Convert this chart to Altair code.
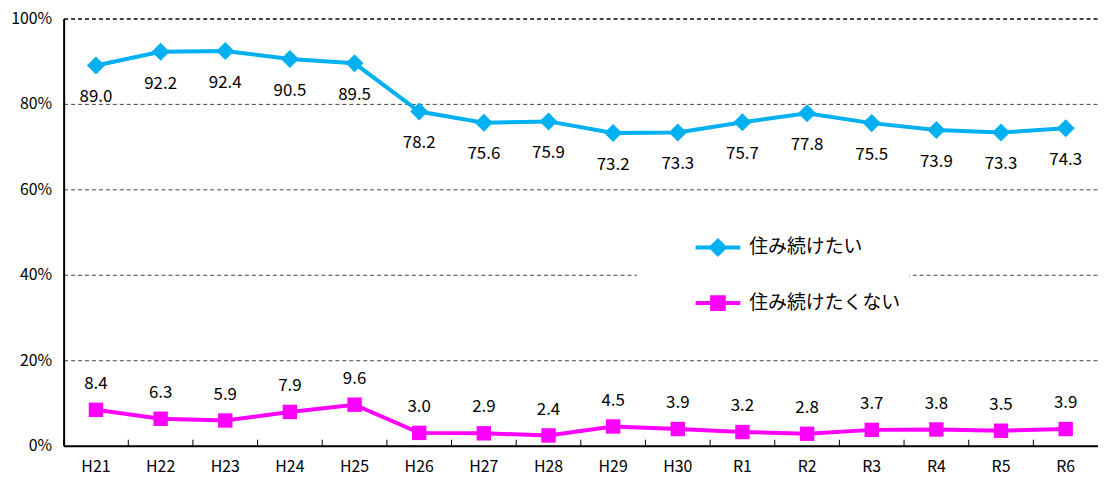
import altair as alt
import pandas as pd

years = ["H21", "H22", "H23", "H24", "H25", "H26", "H27", "H28", "H29", "H30",
         "R1", "R2", "R3", "R4", "R5", "R6"]
want = [89.0, 92.2, 92.4, 90.5, 89.5, 78.2, 75.6, 75.9, 73.2, 73.3,
        75.7, 77.8, 75.5, 73.9, 73.3, 74.3]
not_want = [8.4, 6.3, 5.9, 7.9, 9.6, 3.0, 2.9, 2.4, 4.5, 3.9,
            3.2, 2.8, 3.7, 3.8, 3.5, 3.9]
series_names = ["住み続けたい", "住み続けたくない"]
colors = ["#00B0F0", "#FF00FF"]
y_ticks = [0, 20, 40, 60, 80, 100]

df = pd.DataFrame({"year": years, series_names[0]: want, series_names[1]: not_want})

FONT = "Noto Sans CJK JP"

xaxis = alt.Axis(title=None, labelAngle=0, ticks=False, domainColor="#000",
                 domainWidth=2, labelPadding=13, labelFontSize=16, bandPosition=0.5,
                 labelFont=FONT, labelColor="#000", grid=False)
xscale = alt.Scale(type="band", paddingInner=0, paddingOuter=0)
yscale = alt.Scale(domain=[0, 100], nice=False)
yaxis = alt.Axis(title=None, values=y_ticks, labelExpr="datum.value + '%'",
                 ticks=False, domainColor="#000", domainWidth=2, labelPadding=12,
                 labelFontSize=16, labelFont=FONT, labelColor="#000",
                 grid=True, gridColor="#444", gridDash=[4, 3],
                 gridWidth={"expr": "datum.value == 100 ? 2 : 1"})

def X():
    return alt.X("year:N", sort=years, bandPosition=0.5)

base = alt.Chart(df)
folded = base.transform_fold(series_names, as_=["series", "value"])

sym_shape = ("datum.value == '" + series_names[0] + "' ? "
             "'M-1,0H1M0,-0.3L0.3,0L0,0.3L-0.3,0Z' : "
             "'M-1,0H1M-0.26,-0.26H0.26V0.26H-0.26Z'")
sym_color = ("datum.value == '" + series_names[0] + "' ? '" + colors[0] + "' : '" + colors[1] + "'")

lines = folded.mark_line(strokeWidth=4).encode(
    x=alt.X("year:N", sort=years, bandPosition=0.5, scale=xscale, axis=xaxis),
    y=alt.Y("value:Q", scale=yscale, axis=yaxis),
    color=alt.Color("series:N", scale=alt.Scale(domain=series_names, range=colors),
                    legend=alt.Legend(
                        title=None, orient="none", legendX=577, legendY=198,
                        fillColor="white", padding=8, symbolOffset=49,
                        symbolSize=2025, symbolStrokeWidth=4, rowPadding=16,
                        labelOffset=7, labelFontSize=19, labelFont=FONT,
                        labelColor="#000", labelLimit=400,
                        symbolType={"expr": sym_shape},
                        symbolFillColor={"expr": sym_color},
                        symbolOpacity=1)),
)

ticks = base.mark_rule(color="#000", strokeWidth=1).encode(
    x=alt.X("year:N", sort=years, bandPosition=0),
    y=alt.datum(0), y2=alt.datum(1.4))

pts1 = base.mark_point(filled=True, opacity=1, shape="diamond", size=330,
                       color=colors[0]).encode(x=X(), y=alt.Y(f"{series_names[0]}:Q"))
pts2 = base.mark_point(filled=True, opacity=1, shape="square", size=210,
                       color=colors[1]).encode(x=X(), y=alt.Y(f"{series_names[1]}:Q"))

text1 = base.mark_text(dy=32, fontSize=17, font=FONT, color="#000").encode(
    x=X(), y=alt.Y(f"{series_names[0]}:Q"),
    text=alt.Text(f"{series_names[0]}:Q", format=".1f"))
text2 = base.mark_text(dy=-26, fontSize=17, font=FONT, color="#000").encode(
    x=X(), y=alt.Y(f"{series_names[1]}:Q"),
    text=alt.Text(f"{series_names[1]}:Q", format=".1f"))

chart = alt.layer(lines, ticks, pts1, pts2, text1, text2).properties(
    width=1041, height=430,
    autosize=alt.AutoSizeParams(type="none"),
    padding={"left": 56, "top": 9, "right": 0, "bottom": 30},
).configure_view(strokeWidth=0)

chart.save("out.html", embed_options={"renderer": "svg", "actions": False})
